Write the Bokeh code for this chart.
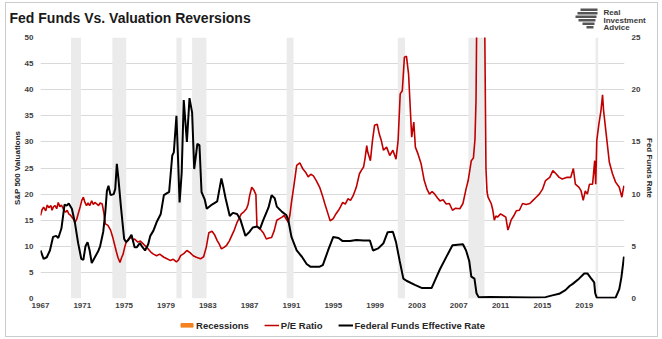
from bokeh.plotting import figure
from bokeh.layouts import column, row
from bokeh.models import (Range1d, LinearAxis, FixedTicker, BoxAnnotation, Legend,
                          LegendItem, Label, ColumnDataSource)
from bokeh.embed import file_html
from bokeh.resources import INLINE

# ---------------- data ----------------
pe_year = [1967.0, 1967.15, 1967.3, 1967.5, 1967.65, 1967.8, 1968.0, 1968.1, 1968.25, 1968.4,
           1968.55, 1968.7, 1968.85, 1969.0, 1969.2, 1969.4, 1969.55, 1969.7, 1969.85, 1970.0,
           1970.15, 1970.3, 1970.45, 1970.6, 1970.8, 1970.95, 1971.1, 1971.25, 1971.4, 1971.55,
           1971.7, 1971.9, 1972.05, 1972.2, 1972.4, 1972.55, 1972.7, 1972.9, 1973.05, 1973.2,
           1973.45, 1973.7, 1973.9, 1974.1, 1974.25, 1974.4, 1974.6, 1974.75, 1974.9, 1975.05,
           1975.2, 1975.45, 1975.7, 1975.85, 1976.0, 1976.3, 1976.55, 1976.8, 1977.05, 1977.3,
           1977.55, 1977.8, 1978.1, 1978.4, 1978.8, 1979.1, 1979.4, 1979.7, 1980.0, 1980.2,
           1980.4, 1980.7, 1981.0, 1981.3, 1981.6, 1981.9, 1982.3, 1982.6, 1982.85, 1983.1,
           1983.4, 1983.65, 1983.9, 1984.1, 1984.3, 1984.55, 1984.8, 1985.05, 1985.3, 1985.55,
           1985.8, 1986.0, 1986.2, 1986.45, 1986.7, 1986.85, 1987.0, 1987.2, 1987.4, 1987.6,
           1987.7, 1987.85, 1988.05, 1988.3, 1988.6, 1988.85, 1989.1, 1989.35, 1989.6, 1989.85,
           1990.1, 1990.3, 1990.5, 1990.7, 1990.85, 1991.0, 1991.25, 1991.5, 1991.8, 1992.1,
           1992.35, 1992.6, 1992.85, 1993.1, 1993.4, 1993.7, 1993.95, 1994.2, 1994.45, 1994.7,
           1995.0, 1995.25, 1995.5, 1995.7, 1995.9, 1996.15, 1996.4, 1996.65, 1996.9, 1997.2,
           1997.5, 1997.7, 1997.9, 1998.05, 1998.2, 1998.3, 1998.55, 1998.75, 1998.95, 1999.2,
           1999.4, 1999.6, 1999.8, 2000.1, 2000.4, 2000.7, 2001.0, 2001.2, 2001.4, 2001.6,
           2001.8, 2002.0, 2002.2, 2002.5, 2002.7, 2002.85, 2003.1, 2003.4, 2003.7, 2003.95,
           2004.2, 2004.45, 2004.7, 2004.95, 2005.2, 2005.5, 2005.8, 2006.1, 2006.4, 2006.7,
           2007.1, 2007.4, 2007.7, 2007.9, 2008.2, 2008.4, 2008.55, 2008.65, 2008.75, 2008.9,
           2009.1, 2009.3, 2009.45, 2009.6, 2009.7, 2009.8, 2010.1, 2010.25, 2010.4, 2010.55,
           2010.7, 2011.0, 2011.25, 2011.5, 2011.7, 2011.85, 2012.0, 2012.25, 2012.5, 2012.8,
           2013.1, 2013.45, 2013.8, 2014.1, 2014.4, 2014.7, 2015.0, 2015.3, 2015.7, 2016.0,
           2016.3, 2016.6, 2016.9, 2017.3, 2017.7, 2017.96, 2018.15, 2018.5, 2018.7, 2018.9,
           2019.1, 2019.3, 2019.5, 2019.8, 2020.0, 2020.1, 2020.2, 2020.4, 2020.6, 2020.75,
           2020.85, 2021.1, 2021.4, 2021.7, 2022.0, 2022.35, 2022.6, 2022.7, 2022.8]
pe_value = [15.9, 17.0, 17.5, 16.8, 17.9, 17.4, 17.8, 16.9, 17.6, 17.8,
            17.2, 18.4, 17.6, 17.9, 17.1, 16.5, 16.9, 16.2, 16.0, 15.6,
            15.2, 14.6, 15.1, 16.2, 17.6, 18.8, 19.4, 18.4, 17.8, 18.3,
            17.8, 18.7, 18.0, 18.4, 18.1, 17.8, 18.3, 18.1, 16.5, 14.3,
            14.0, 13.1, 11.8, 10.2, 9.0, 7.9, 6.9, 7.8, 8.5, 9.8,
            10.8, 11.5, 11.7, 11.2, 11.4, 10.8, 11.0, 10.5, 10.0, 9.5,
            8.9, 8.5, 8.2, 8.5, 7.9, 7.6, 7.3, 7.5, 7.0, 7.4,
            8.2, 8.6, 9.2, 8.8, 8.2, 7.9, 7.6, 8.0, 9.8, 12.6,
            12.9, 12.2, 11.1, 10.4, 9.5, 9.8, 10.2, 11.0, 12.1, 13.2,
            14.6, 15.4, 16.2, 16.6, 17.2, 18.0, 19.7, 21.3, 20.8, 19.9,
            13.9, 13.5, 13.2, 12.6, 11.4, 11.6, 11.7, 13.0, 15.0, 15.3,
            15.6, 15.9, 15.2, 14.6, 16.0, 18.4, 21.8, 25.5, 26.0, 24.8,
            24.2, 23.3, 23.8, 23.5, 22.5, 21.3, 19.8, 18.1, 16.5, 14.9,
            15.3, 16.2, 16.9, 17.6, 18.4, 18.1, 19.1, 18.8, 19.7, 21.3,
            23.9, 24.6, 25.2, 27.0, 29.3, 28.0, 26.4, 30.3, 33.2, 33.4,
            31.5, 30.2, 28.4, 29.0, 27.4, 28.4, 26.7, 30.3, 39.2, 39.8,
            46.2, 46.4, 43.0, 30.9, 33.8, 29.0, 27.7, 25.8, 22.6, 21.0,
            20.0, 20.5, 20.0, 19.3, 18.7, 18.9, 18.1, 18.2, 16.9, 17.3,
            17.2, 18.2, 21.0, 22.6, 26.4, 26.9, 30.5, 38.0, 60.0, 90.0,
            120.0, 100.0, 60.0, 25.0, 20.5, 19.4, 18.2, 17.0, 15.0, 15.8,
            15.6, 16.2, 15.9, 15.6, 13.1, 14.0, 15.0, 15.8, 16.8, 16.9,
            18.2, 18.0, 18.2, 18.8, 19.4, 20.0, 20.9, 22.6, 23.2, 24.5,
            23.9, 23.2, 22.9, 23.2, 23.2, 24.9, 21.9, 21.3, 20.6, 18.8,
            20.6, 20.0, 21.9, 21.9, 26.4, 21.9, 30.3, 33.4, 36.0, 39.0,
            36.0, 31.5, 26.1, 23.9, 22.3, 21.3, 19.4, 20.6, 21.6]

ff_year = [1967.0, 1967.3, 1967.6, 1967.9, 1968.2, 1968.5, 1968.7, 1969.0, 1969.3, 1969.5,
           1969.7, 1970.0, 1970.3, 1970.6, 1970.9, 1971.1, 1971.3, 1971.5, 1971.7, 1971.9,
           1972.2, 1972.5, 1972.7, 1973.0, 1973.2, 1973.35, 1973.5, 1973.7, 1974.0, 1974.15,
           1974.3, 1974.45, 1974.7, 1975.0, 1975.2, 1975.4, 1975.7, 1976.0, 1976.2, 1976.5,
           1976.7, 1977.0, 1977.3, 1977.5, 1977.8, 1978.1, 1978.5, 1978.8, 1979.1, 1979.3,
           1979.6, 1979.75, 1980.0, 1980.15, 1980.3, 1980.5, 1980.7, 1980.85, 1981.0, 1981.25,
           1981.5, 1981.7, 1982.0, 1982.2, 1982.4, 1982.7, 1982.9, 1983.4, 1983.9, 1984.3,
           1984.5, 1984.7, 1985.1, 1985.4, 1985.8, 1986.1, 1986.6, 1987.0, 1987.3, 1987.7,
           1988.0, 1988.3, 1988.8, 1989.1, 1989.4, 1989.6, 1990.1, 1990.5, 1990.7, 1991.0,
           1991.5, 1992.0, 1992.45, 1992.8, 1993.7, 1994.0, 1994.5, 1995.0, 1995.5, 1995.9,
           1996.6, 1997.2, 1997.9, 1998.5, 1998.8, 1999.3, 1999.8, 2000.2, 2000.7, 2001.0,
           2001.35, 2001.7, 2002.0, 2002.8, 2003.5, 2004.4, 2004.8, 2005.2, 2005.8, 2006.4,
           2007.4, 2007.7, 2008.0, 2008.2, 2008.5, 2008.7, 2008.9, 2010.0, 2012.0, 2014.0,
           2015.3, 2015.95, 2016.6, 2017.2, 2017.6, 2017.9, 2018.5, 2019.0, 2019.3, 2019.6,
           2019.95, 2020.05, 2020.2, 2022.0, 2022.35, 2022.55, 2022.8]
ff_value = [4.6, 3.8, 3.95, 4.6, 5.9, 6.0, 5.8, 6.7, 9.0, 8.9,
            9.1, 8.6, 7.2, 5.3, 3.8, 3.7, 5.0, 5.4, 4.6, 3.4,
            3.95, 4.5, 5.0, 6.4, 8.3, 10.3, 10.8, 9.9, 10.0, 10.5,
            12.9, 11.5, 8.7, 5.7, 5.4, 5.6, 6.1, 4.9, 4.9, 5.3,
            5.0, 4.6, 5.2, 6.0, 6.5, 7.3, 8.1, 9.9, 10.1, 10.2,
            13.7, 14.0, 17.5, 13.5, 9.2, 12.0, 19.0, 17.0, 15.0, 19.2,
            17.8, 12.4, 14.8, 14.7, 10.2, 9.5, 8.6, 9.0, 9.3, 11.5,
            10.6, 9.6, 7.9, 8.2, 8.1, 7.6, 6.0, 6.4, 6.8, 6.9,
            6.7, 7.5, 8.7, 9.9, 9.6, 8.8, 8.3, 8.0, 7.5, 5.9,
            4.6, 4.0, 3.3, 3.05, 3.05, 3.2, 4.6, 5.9, 5.8, 5.5,
            5.5, 5.6, 5.55, 5.55, 4.6, 4.8, 5.3, 6.35, 6.4, 5.4,
            3.6, 1.9, 1.7, 1.3, 1.0, 1.0, 1.9, 2.8, 3.96, 5.1,
            5.2, 4.6, 3.6, 2.1, 1.9, 0.5, 0.13, 0.15, 0.13, 0.1,
            0.13, 0.3, 0.45, 0.8, 1.2, 1.4, 1.9, 2.4, 2.4, 2.0,
            1.55, 0.5, 0.07, 0.08, 0.9, 2.0, 4.0]

rec_start = [1969.92, 1973.87, 1980.0, 1981.5, 1990.54, 2001.17, 2007.92, 2020.08]
rec_end = [1970.87, 1975.2, 1980.5, 1982.87, 1991.2, 2001.87, 2009.46, 2020.33]

x_ticks = list(range(1967, 2020, 4))
left_ticks = list(range(0, 51, 5))
right_ticks = list(range(0, 26, 5))

title_text = "Fed Funds Vs. Valuation Reversions"
left_label = "S&P 500 Valuations"
right_label = "Fed Funds Rate"
logo_lines = ["Real", "Investment", "Advice"]
legend_labels = ["Recessions", "P/E Ratio", "Federal Funds Effective Rate"]

# ---------------- styles ----------------
FONT = "Liberation Sans"
TXT = "#404040"
RED = "#C00000"
ORANGE = "#F58220"
GRID = "#D9D9D9"
BAND = "#EBEBEB"
CW = 651            # content width (inside the outer border)
TOP_H, MAIN_H, LEG_H = 28, 283, 22

def bare(fig):
    fig.outline_line_color = None
    fig.background_fill_color = "white"
    fig.border_fill_color = "white"
    return fig

# ---------------- header: title + logo ----------------
top = bare(figure(width=CW, height=TOP_H, output_backend="svg", toolbar_location=None,
                  x_range=Range1d(0, CW), y_range=Range1d(TOP_H, 0), min_border=0,
                  min_border_left=0, min_border_right=0, min_border_top=0, min_border_bottom=0,
                  x_axis_type=None, y_axis_type=None))
top.add_layout(Label(x=3, y=14, text=title_text, text_font=FONT, text_font_size="14px",
                     text_font_style="bold", text_color="#1A1A1A", text_baseline="middle"))
for i, t in enumerate(logo_lines):
    top.add_layout(Label(x=597, y=9 + 7.5 * i, text=t, text_font=FONT, text_font_size="8px",
                         text_font_style="bold", text_color="#3A3A3A", text_baseline="middle"))
icon = dict(l=[574, 571, 569, 572, 576, 580], r=[591, 591, 590, 589, 588, 587],
            t=[5, 8.5, 12, 15.5, 19, 22.5], b=[7.5, 11, 14.5, 18, 21.5, 25])
top.quad(left="l", right="r", top="t", bottom="b", source=ColumnDataSource(icon),
         fill_color="#555555", line_color=None)

# ---------------- main chart ----------------
p = bare(figure(width=CW, height=MAIN_H, output_backend="svg", toolbar_location=None,
                x_range=Range1d(1967.0, 2022.85), y_range=Range1d(0, 50),
                min_border_left=34, min_border_right=31, min_border_top=6, min_border_bottom=16))
p.extra_y_ranges = {"ff": Range1d(0, 25)}

for s, e in zip(rec_start, rec_end):
    p.add_layout(BoxAnnotation(left=s, right=e, fill_color=BAND, fill_alpha=1.0,
                               line_color=None, level="underlay"))

src_pe = ColumnDataSource(dict(x=pe_year, y=pe_value))
src_ff = ColumnDataSource(dict(x=ff_year, y=ff_value))
p.line("x", "y", source=src_pe, line_color=RED, line_width=1.6)
p.line("x", "y", source=src_ff, line_color="black", line_width=2.0, y_range_name="ff")

def style_axis(ax):
    ax.axis_line_color = None
    ax.major_tick_line_color = None
    ax.minor_tick_line_color = None
    ax.major_tick_out = 0
    ax.major_tick_in = 0
    ax.minor_tick_out = 0
    ax.minor_tick_in = 0
    ax.major_label_text_font = FONT
    ax.major_label_text_font_size = "8px"
    ax.major_label_text_font_style = "bold"
    ax.major_label_text_color = TXT
    ax.axis_label_text_font = FONT
    ax.axis_label_text_font_size = "8px"
    ax.axis_label_text_font_style = "bold"
    ax.axis_label_text_color = "#262626"

xa = p.xaxis[0]
xa.ticker = FixedTicker(ticks=x_ticks)
style_axis(xa)
xa.major_label_standoff = 4

ya = p.yaxis[0]
ya.ticker = FixedTicker(ticks=left_ticks)
style_axis(ya)
ya.major_label_standoff = 7
ya.axis_label = left_label
ya.axis_label_standoff = 0

ra = LinearAxis(y_range_name="ff", ticker=FixedTicker(ticks=right_ticks))
style_axis(ra)
ra.major_label_standoff = 7
ra.axis_label = right_label
ra.axis_label_standoff = 2
p.add_layout(ra, "right")

p.xgrid.visible = False
p.ygrid.ticker = FixedTicker(ticks=left_ticks)
p.ygrid.grid_line_color = GRID
p.ygrid.grid_line_width = 1

# ---------------- legend strip ----------------
leg = bare(figure(width=CW, height=LEG_H, output_backend="svg", toolbar_location=None,
                  x_range=Range1d(0, 1), y_range=Range1d(0, 1), min_border=0,
                  x_axis_type=None, y_axis_type=None))
# one off-screen point per dummy renderer so the legend draws its swatch
dummy = ColumnDataSource(dict(l=[-3], r=[-2], t=[-2], b=[-3], x=[-3], y=[-3]))
g_rec = leg.quad(left="l", right="r", top="t", bottom="b", source=dummy,
                 fill_color=ORANGE, line_color=ORANGE)
g_pe = leg.line("x", "y", source=dummy, line_color=RED, line_width=1.6)
g_ff = leg.line("x", "y", source=dummy, line_color="black", line_width=2.0)
legend = Legend(items=[LegendItem(label=legend_labels[0], renderers=[g_rec]),
                       LegendItem(label=legend_labels[1], renderers=[g_pe]),
                       LegendItem(label=legend_labels[2], renderers=[g_ff])],
                orientation="horizontal", location="center")
legend.label_text_font = FONT
legend.label_text_font_size = "9.5px"
legend.label_text_font_style = "bold"
legend.label_text_color = "#262626"
legend.glyph_width = 15
legend.glyph_height = 5
legend.label_standoff = 2
legend.spacing = 15
legend.padding = 2
legend.margin = 0
legend.border_line_color = None
legend.background_fill_alpha = 0
leg.add_layout(legend)

layout = column(row(top), p, leg, spacing=0,
                styles={"margin": "2px 4px 2px 5px", "border": "1px solid #CCCCCC"})

open("out.html", "w").write(file_html(layout, INLINE))
